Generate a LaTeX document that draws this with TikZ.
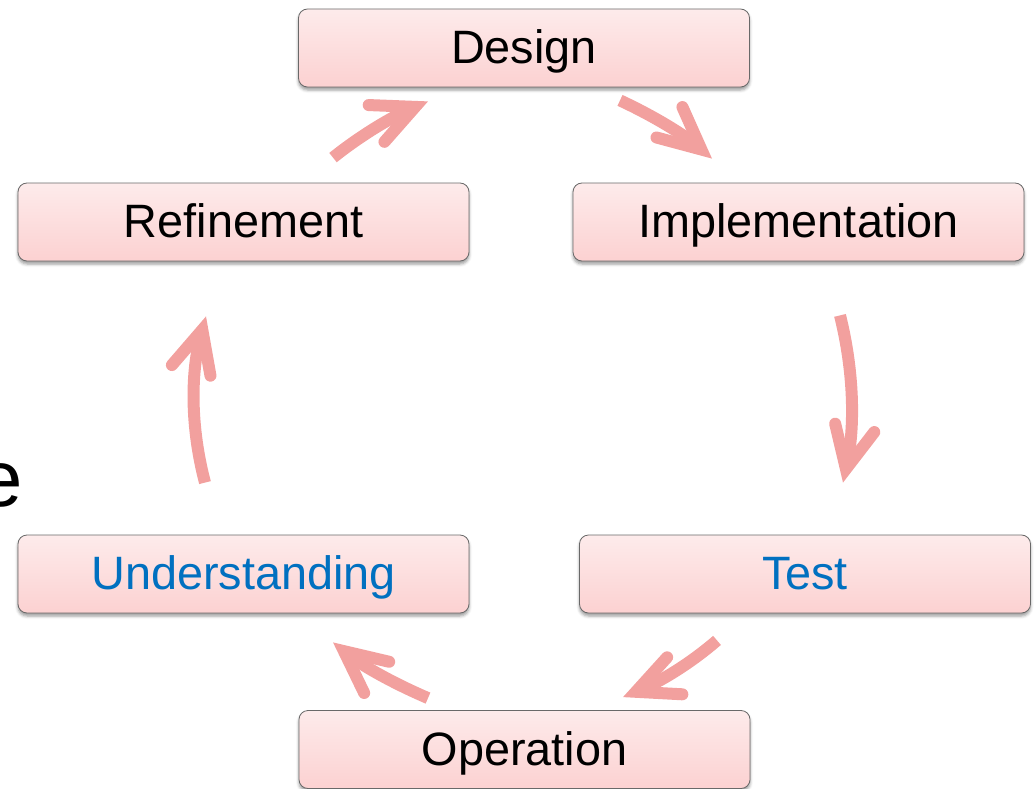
\documentclass[tikz,border=0pt]{standalone}
\usepackage{fontspec}
\setmainfont{Liberation Sans}
\usetikzlibrary{arrows.meta,shadows.blur,calc}
\definecolor{boxtop}{RGB}{253,235,235}
\definecolor{boxbot}{RGB}{252,209,209}
\definecolor{boxline}{RGB}{105,105,105}
\definecolor{flow}{RGB}{242,160,158}
\definecolor{stageblue}{RGB}{0,112,192}
\tikzset{
  stage/.style={rectangle, rounded corners=9bp, draw=boxline, line width=0.8bp,
    top color=boxtop, bottom color=boxbot,
    minimum width=451bp, minimum height=78bp, inner sep=0pt,
    font=\fontsize{47}{56}\selectfont, text height=34bp, text depth=3bp,
    blur shadow={shadow xshift=0bp, shadow yshift=-3bp,
      shadow blur radius=3bp, shadow opacity=40}},
  cycle/.style={draw=flow, line width=12bp, line cap=butt,
    -{Straight Barb[length=42bp, width=40bp, line cap=round, line join=miter]}},
}
\begin{document}
\begin{tikzpicture}[x=1bp, y=-1bp]
\useasboundingbox (0,0) rectangle (1034,789);
\clip (0,0) rectangle (1034,789);

% stages of the cycle
\node[stage] (design) at (524,48) {Design};
\node[stage] (refine) at (243.5,222) {Refinement};
\node[stage] (impl) at (798.5,222) {Implementation};
\node[stage, text=stageblue] (underst) at (243.5,574) {Understanding};
\node[stage, text=stageblue] (test) at (805,574) {Test};
\node[stage] (oper) at (524.5,749.5) {Operation};

% tail of a larger word at the left edge
\node[font=\fontsize{80}{96}\selectfont, anchor=base east, inner sep=0pt] (word) at (23,506) {e};

% arrow end points, placed next to the stages they join
\coordinate (a1s) at ($(refine.north)+(89.5,-25)$);
\coordinate (a1e) at ($(design.south)+(-96,14)$);
\coordinate (a2s) at ($(design.south)+(96,13)$);
\coordinate (a2e) at ($(impl.north)+(-86.5,-24)$);
\coordinate (a3s) at ($(impl.south)+(41.5,54)$);
\coordinate (a3e) at ($(test.north)+(38,-52)$);
\coordinate (a4s) at ($(test.south)+(-88,27)$);
\coordinate (a4e) at ($(oper.north)+(98.5,-13)$);
\coordinate (a5s) at ($(oper.north)+(-96.5,-12)$);
\coordinate (a5e) at ($(underst.south)+(89.5,29)$);
\coordinate (a6s) at ($(underst.north)+(-38.5,-52)$);
\coordinate (a6e) at ($(refine.south)+(-37.5,55)$);

% curved arrows
\draw[cycle] (a1s) .. controls +(29,-23.3) and +(-34.3,14.7) .. (a1e);
\draw[cycle] (a2s) .. controls +(33.4,15.5) and +(-28,-23.9) .. (a2e);
\draw[cycle] (a3s) .. controls +(14,56) and +(12,-56) .. (a3e);
\draw[cycle] (a4s) .. controls +(-28.1,24.4) and +(34.5,-14.2) .. (a4e);
\draw[cycle] (a5s) .. controls +(-34.3,-14.7) and +(29.1,23.3) .. (a5e);
\draw[cycle] (a6s) .. controls +(-14.7,-55.7) and +(-15.3,55.7) .. (a6e);
\end{tikzpicture}
\end{document}
